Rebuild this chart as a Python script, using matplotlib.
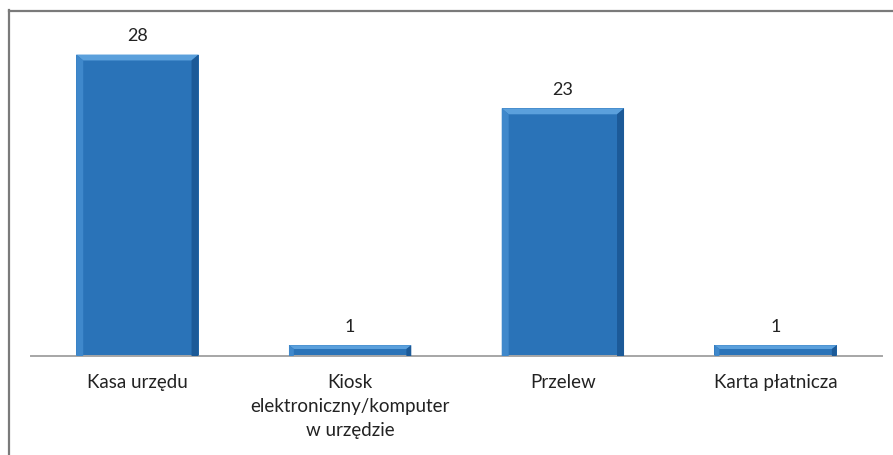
import matplotlib

matplotlib.use("Agg")
import matplotlib.pyplot as plt
from matplotlib.patches import Polygon
from matplotlib.lines import Line2D

categories = [
    "Kasa urzędu",
    "Kiosk\nelektroniczny/komputer\nw urzędzie",
    "Przelew",
    "Karta płatnicza",
]
values = [28, 1, 23, 1]

plt.rcParams["font.family"] = ["Lato", "DejaVu Sans"]

fig = plt.figure(figsize=(8.93, 4.55), dpi=100)
ax = fig.add_axes([31 / 893, 99 / 455, 851 / 893, 323 / 455])

xs = list(range(len(values)))
bar_w = 0.575
face = "#2a73b8"
bars = ax.bar(xs, values, width=bar_w, color=face, edgecolor="none", zorder=2)

ax.set_xlim(-0.5, len(values) - 0.5)
ax.set_ylim(0, 30)

# bevelled edges on each bar
bx = 7 / 212.75
for b in bars:
    x0, w, h = b.get_x(), b.get_width(), b.get_height()
    x1 = x0 + w
    by = min(0.55, h * 0.35)
    bxx = min(bx, by * 10.76 / 212.75 * 1.3) if h < 2 else bx
    top = [(x0, h), (x1, h), (x1 - bxx, h - by), (x0 + bxx, h - by)]
    left = [(x0, 0), (x0, h), (x0 + bxx, h - by), (x0 + bxx, 0)]
    right = [(x1, 0), (x1, h), (x1 - bxx, h - by), (x1 - bxx, 0)]
    ax.add_patch(Polygon(top, closed=True, color="#5ba0dc", lw=0, zorder=3))
    ax.add_patch(Polygon(left, closed=True, color="#3f88cb", lw=0, zorder=3))
    ax.add_patch(Polygon(right, closed=True, color="#1c5a98", lw=0, zorder=3))
    ax.annotate(f"{int(h)}", (x0 + w / 2, h), xytext=(0, 7.5),
                textcoords="offset points", ha="center", va="bottom",
                fontsize=13, color="#222222", zorder=4)

ax.set_xticks(xs)
ax.set_xticklabels(categories, fontsize=13.5, color="#222222", linespacing=1.5)
ax.tick_params(axis="x", length=0, pad=13)
ax.set_yticks([])

for side in ["top", "right", "left"]:
    ax.spines[side].set_visible(False)
ax.spines["bottom"].set_color("#a6a6a6")
ax.spines["bottom"].set_linewidth(1.4)

# outer frame, left and top only
fig.add_artist(Line2D([8.5 / 893, 8.5 / 893], [0, 1 - 10 / 455],
                      transform=fig.transFigure, color="#7a7a7a", lw=1.6))
fig.add_artist(Line2D([8.5 / 893, 1], [1 - 10.5 / 455, 1 - 10.5 / 455],
                      transform=fig.transFigure, color="#7a7a7a", lw=1.6))

fig.savefig("out.png", dpi=100)
plt.close(fig)
